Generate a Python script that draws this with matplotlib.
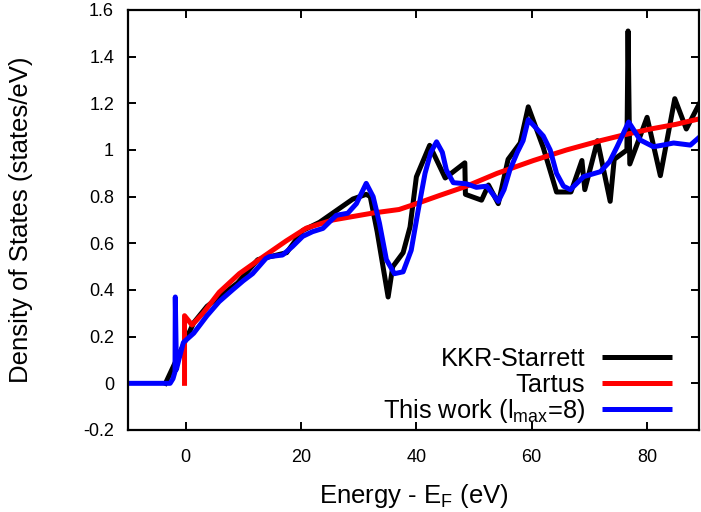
import matplotlib
matplotlib.use("Agg")
import matplotlib.pyplot as plt
from matplotlib.lines import Line2D
from matplotlib.ticker import FuncFormatter, MultipleLocator

plt.rcParams["font.family"] = ["Liberation Sans", "DejaVu Sans"]

# KKR-Starrett DOS (energy in eV relative to E_F)
kkr_e = [-3.5, 1.4, 3.7, 9.0, 12.5, 15.0, 17.5, 20.3, 23.2, 26.1, 29.0, 31.3, 32.0,
         33.2, 35.1, 35.9, 37.7, 38.9, 40.0, 42.3, 45.0, 48.4, 48.5, 51.3, 52.5,
         54.2, 55.9, 58.0, 59.4, 62.0, 64.3, 66.8, 68.7, 69.2, 71.4, 73.6, 74.3,
         76.5, 76.7, 77.0, 80.0, 82.3, 84.8, 86.8, 89.3]
kkr_dos = [0.0, 0.26, 0.33, 0.43, 0.53, 0.545, 0.56, 0.655, 0.69, 0.74, 0.79, 0.81, 0.80,
           0.65, 0.37, 0.50, 0.56, 0.67, 0.885, 1.02, 0.88, 0.945, 0.81, 0.785, 0.85,
           0.77, 0.96, 1.03, 1.185, 1.01, 0.82, 0.82, 0.955, 0.83, 1.04, 0.78, 0.96,
           1.0, 1.51, 0.94, 1.14, 0.89, 1.22, 1.09, 1.21]

# Tartus
tartus_e = [-0.2, -0.2, 1.1, 3.0, 5.8, 9.3, 13.3, 17.4, 20.9, 25.5, 32.5, 37.0, 40.0,
            44.0, 48.7, 54.0, 60.3, 66.0, 71.9, 76.0, 80.6, 85.0, 89.3]
tartus_dos = [0.0, 0.29, 0.25, 0.30, 0.39, 0.47, 0.54, 0.61, 0.665, 0.70, 0.73, 0.745, 0.77,
              0.805, 0.845, 0.90, 0.955, 1.0, 1.04, 1.065, 1.09, 1.11, 1.135]

# This work, l_max = 8
this_e = [-10.0, -2.7, -2.2, -1.85, -1.8, -1.6, -1.2, -0.4, 1.4, 3.7, 5.8, 8.1, 10.0,
          11.6, 13.9, 14.5, 16.8, 18.5, 20.3, 22.0, 23.8, 26.1, 28.1, 29.6, 31.3, 32.5,
          33.6, 34.8, 36.2, 37.7, 39.1, 40.3, 41.5, 42.5, 43.5, 44.5, 45.2, 46.4, 48.7,
          50.4, 52.2, 54.2, 55.2, 56.2, 57.5, 58.5, 59.4, 60.9, 62.0, 63.2, 64.3, 65.5,
          66.7, 69.0, 71.9, 73.5, 74.8, 76.8, 78.8, 81.1, 82.5, 84.6, 87.5, 89.3]
this_dos = [0.0, 0.0, 0.02, 0.05, 0.37, 0.06, 0.10, 0.175, 0.215, 0.29, 0.35, 0.40, 0.44,
            0.47, 0.535, 0.543, 0.55, 0.586, 0.63, 0.65, 0.664, 0.72, 0.729, 0.77, 0.857, 0.80,
            0.686, 0.53, 0.47, 0.478, 0.57, 0.74, 0.90, 0.99, 1.035, 0.99, 0.914, 0.86, 0.855,
            0.84, 0.845, 0.78, 0.83, 0.914, 0.99, 1.04, 1.13, 1.09, 1.06, 1.0, 0.9, 0.845,
            0.83, 0.886, 0.907, 0.95, 1.014, 1.12, 1.043, 1.014, 1.02, 1.03, 1.021, 1.06]

labels = ["KKR-Starrett", "Tartus", "This work (l$_\\mathregular{max}$=8)"]
colors = ["black", "#ff0000", "#0000ff"]

fig = plt.figure(figsize=(7.01, 5.12), dpi=100)
ax = fig.add_axes([128 / 701, 1 - 430 / 512, 571 / 701, 420 / 512])

lw = 3.6
series = [(kkr_e, kkr_dos), (tartus_e, tartus_dos), (this_e, this_dos)]
for (e, d), c in zip(series, colors):
    ax.plot(e, d, color=c, lw=lw, solid_joinstyle="round")

ax.set_xlim(-10, 89)
ax.set_ylim(-0.2, 1.6)
ax.xaxis.set_major_locator(MultipleLocator(20))
ax.yaxis.set_major_locator(MultipleLocator(0.2))
ax.yaxis.set_major_formatter(FuncFormatter(lambda v, _: f"{round(v, 1):g}"))

for s in ax.spines.values():
    s.set_linewidth(1.6)
ax.tick_params(direction="in", length=6, width=1.4, top=True, right=True, labelsize=13)
ax.tick_params(axis="x", pad=14)
ax.tick_params(axis="y", pad=10)

ax.set_xlabel("Energy - E$_\\mathregular{F}$ (eV)", fontsize=18.5, labelpad=11)
ax.set_ylabel("Density of States (states/eV)", fontsize=18.5)
ax.yaxis.set_label_coords(-0.166, 0.5)

# gnuplot-style key: right-justified text, sample line to its right, fixed row pitch
key_text_x = 0.8004
key_line = (0.830, 0.9527)
key_top = 0.173
key_pitch = 26 / 420
for i, (lab, c) in enumerate(zip(labels, colors)):
    yk = key_top - i * key_pitch
    ax.text(key_text_x, yk - 0.0214, lab, transform=ax.transAxes, ha="right",
            va="baseline", fontsize=18.3)
    ax.add_line(Line2D(key_line, [yk, yk], transform=ax.transAxes, color=c, lw=lw,
                       solid_capstyle="butt"))

fig.savefig("out.png", dpi=100)
